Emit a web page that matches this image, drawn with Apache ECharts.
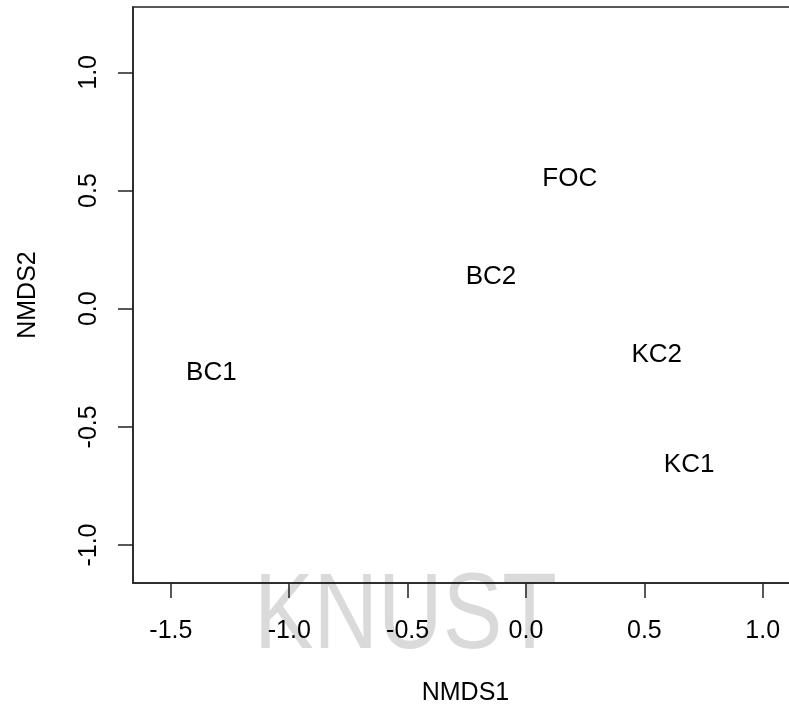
<!DOCTYPE html>
<html>
<head>
<meta charset="utf-8">
<script src="https://cdn.jsdelivr.net/npm/echarts@6/dist/echarts.min.js"></script>
<style>
html,body{margin:0;padding:0;background:#fff;}
#chart{width:789px;height:706px;}
</style>
</head>
<body>
<div id="chart"></div>
<script>
// Data (NMDS ordination, site labels)
var siteNames = ['FOC', 'BC2', 'KC2', 'BC1', 'KC1'];
var nmds1 = [0.185, -0.148, 0.552, -1.329, 0.689];
var nmds2 = [0.558, 0.144, -0.188, -0.264, -0.651];
var xTicks = [-1.5, -1.0, -0.5, 0.0, 0.5, 1.0];
var yTicks = [-1.0, -0.5, 0.0, 0.5, 1.0];
var xTitle = 'NMDS1';
var yTitle = 'NMDS2';
var watermark = 'KNUST';

var points = siteNames.map(function (n, i) {
  return { name: n, value: [nmds1[i], nmds2[i]] };
});

var FONT = 'Liberation Sans, Arial, sans-serif';
var INK = '#000';
var LINE = '#222';

var chart = echarts.init(document.getElementById('chart'), null, { renderer: 'canvas' });
chart.setOption({
  animation: false,
  backgroundColor: '#fff',
  textStyle: { fontFamily: FONT },
  graphic: [{
    type: 'text',
    left: 254,
    top: 565,
    z: -10,
    scaleX: 0.835,
    style: {
      text: watermark,
      fontSize: 107,
      fontFamily: FONT,
      fill: '#dadada'
    }
  }],
  grid: {
    left: 133, top: 7, width: 665, height: 576,
    outerBoundsMode: 'none',
    containLabel: false,
    show: true, borderColor: LINE, borderWidth: 1.5,
    backgroundColor: 'transparent'
  },
  xAxis: {
    type: 'value',
    min: -1.66, max: 1.149,
    name: xTitle, nameLocation: 'middle', nameGap: 98,
    nameTextStyle: { fontSize: 25, color: INK, fontFamily: FONT },
    axisLine: { show: true, onZero: false, lineStyle: { color: LINE, width: 1.5 } },
    axisTick: { show: true, inside: false, length: 15, customValues: xTicks,
                lineStyle: { color: LINE, width: 1.5 } },
    axisLabel: { show: true, customValues: xTicks, margin: 36, fontSize: 25,
                 color: INK, fontFamily: FONT,
                 formatter: function (v) { return v.toFixed(1); } },
    splitLine: { show: false }
  },
  yAxis: {
    type: 'value',
    min: -1.1606, max: 1.2765,
    name: yTitle, nameLocation: 'middle', nameGap: 92, nameRotate: 90,
    nameTextStyle: { fontSize: 25, color: INK, fontFamily: FONT },
    axisLine: { show: true, onZero: false, lineStyle: { color: LINE, width: 1.5 } },
    axisTick: { show: true, inside: false, length: 15, customValues: yTicks,
                lineStyle: { color: LINE, width: 1.5 } },
    axisLabel: { show: true, customValues: yTicks, margin: 31, fontSize: 25,
                 rotate: 90, color: INK, fontFamily: FONT,
                 formatter: function (v) { return v.toFixed(1); } },
    splitLine: { show: false }
  },
  series: [{
    type: 'scatter',
    data: points,
    symbol: 'circle',
    symbolSize: 1,
    itemStyle: { color: 'rgba(0,0,0,0)', opacity: 1 },
    label: {
      show: true,
      position: 'inside',
      offset: [0, 2],
      formatter: '{b}',
      fontSize: 26,
      color: INK,
      opacity: 1,
      fontFamily: FONT
    },
    emphasis: { disabled: true }
  }]
});
</script>
</body>
</html>
